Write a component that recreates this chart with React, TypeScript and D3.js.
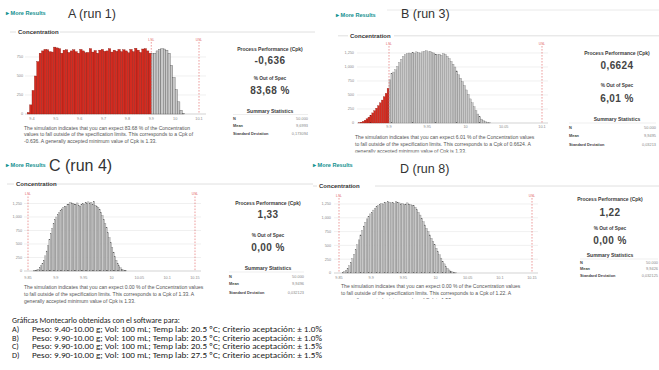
import React from "react";
import * as d3 from "d3";

// ---- data: histogram counts ----
// A (run 1): bins of 0.01 starting at 9.38
const startA = 9.38;
const binA = 0.01;
const countsA = [
  20, 120, 310, 500, 690, 800, 830, 850, 845, 820, 815, 880, 870, 860, 800, 840, 845, 810, 830, 845,
  820, 800, 850, 830, 805, 810, 860, 815, 835, 800, 840, 850, 825, 830, 860, 815, 840, 825, 850, 820,
  845, 830, 805, 850, 820, 865, 840, 810, 855, 860, 830, 800, 795, 800, 830, 850, 860, 855, 840, 800,
  640, 480, 320, 160, 50, 10,
];

// B (run 3): bins of 0.0025 starting at 9.86
const startB = 9.86;
const binB = 0.0025;
const countsB = [
  5, 15, 30, 50, 75, 105, 140, 180, 220, 265, 310, 360, 410, 470, 530, 620, 770, 880, 910, 950,
  1010, 1080, 1140, 1190, 1220, 1240, 1250, 1240, 1265, 1250, 1270, 1255, 1250, 1270, 1280, 1290, 1270, 1280, 1260, 1250,
  1230, 1220, 1230, 1210, 1240, 1225, 1190, 1150, 1100, 1050, 1000, 930, 860, 800, 740, 670, 590, 510, 430, 360,
  290, 220, 160, 110, 70, 40, 22, 10, 5,
];

// C (run 4): bins of 0.0025 starting at 9.86
const startC = 9.86;
const binC = 0.0025;
const countsC = [
  3, 10, 20, 35, 60, 95, 140, 200, 280, 370, 470, 580, 690, 790, 880, 950, 1000, 1040, 1080, 1120,
  1150, 1180, 1200, 1190, 1230, 1240, 1270, 1260, 1250, 1240, 1230, 1260, 1220, 1200, 1230, 1250, 1240, 1270, 1260, 1280,
  1250, 1270, 1240, 1290, 1220, 1200, 1180, 1140, 1090, 1030, 960, 880, 800, 710, 620, 530, 440, 350, 270, 200,
  140, 95, 60, 35, 20, 10, 5,
];

// D (run 8): bins of 0.0025 starting at 9.855
const startD = 9.855;
const binD = 0.0025;
const countsD = [
  10, 25, 50, 85, 130, 190, 260, 340, 420, 510, 600, 690, 770, 850, 920, 980, 1030, 1070, 1100, 1140,
  1170, 1200, 1220, 1240, 1260, 1250, 1280, 1270, 1290, 1285, 1270, 1280, 1260, 1290, 1280, 1270, 1250, 1260, 1240, 1250,
  1270, 1250, 1240, 1230, 1220, 1190, 1150, 1100, 1050, 990, 930, 870, 810, 750, 690, 630, 570, 510, 450, 390,
  330, 270, 215, 165, 120, 85, 55, 35, 20, 10, 5,
];

const ticksXA = [9.4, 9.5, 9.6, 9.7, 9.8, 9.9, 10, 10.1];
const ticksXB = [9.9, 9.95, 10, 10.05, 10.1];
const ticksXCD = [9.85, 9.9, 9.95, 10, 10.05, 10.1, 10.15];
const ticksYA = [0, 250, 500, 750];
const ticksYBCD = [0, 250, 500, 750, 1000, 1250];

const specA = [9.9, 10.1];
const specB = [9.9, 10.1];
const specC = [9.85, 10.15];
const specD = [9.85, 10.15];

const titles = ["A (run 1)", "B (run 3)", "C (run 4)", "D (run 8)"];
const cpkValues = ["-0,636", "0,6624", "1,33", "1,22"];
const outOfSpec = ["83,68 %", "6,01 %", "0,00 %", "0,00 %"];
const statN = ["50.000", "50.000", "50.000", "50.000"];
const statMean = ["9,6993", "9,9495", "9,9496", "9,9426"];
const statSd = ["0,173094", "0,03213", "0,032123", "0,032125"];

const descA = [
  "The simulation indicates that you can expect 83.68 % of the Concentration",
  "values to fall outside of the specification limits. This corresponds to a Cpk of",
  "-0.636. A generally accepted minimum value of Cpk is 1.33.",
];
const descB = [
  "The simulation indicates that you can expect 6.01 % of the Concentration values",
  "to fall outside of the specification limits. This corresponds to a Cpk of 0.6624. A",
  "generally accepted minimum value of Cpk is 1.33.",
];
const descC = [
  "The simulation indicates that you can expect 0.00 % of the Concentration values",
  "to fall outside of the specification limits. This corresponds to a Cpk of 1.33. A",
  "generally accepted minimum value of Cpk is 1.33.",
];
const descD = [
  "The simulation indicates that you can expect 0.00 % of the Concentration values",
  "to fall outside of the specification limits. This corresponds to a Cpk of 1.22. A",
  "generally accepted minimum value of Cpk is 1.33.",
];

const captionTitle = "Gráficas Montecarlo obtenidas con el software para:";
const captionLetters = ["A)", "B)", "C)", "D)"];
const captionLines = [
  "Peso: 9.40-10.00 g; Vol: 100 mL; Temp lab: 20.5 ºC; Criterio aceptación: ± 1.0%",
  "Peso: 9.90-10.00 g; Vol: 100 mL; Temp lab: 20.5 ºC; Criterio aceptación: ± 1.0%",
  "Peso: 9.90-10.00 g; Vol: 100 mL; Temp lab: 20.5 ºC; Criterio aceptación: ± 1.5%",
  "Peso: 9.90-10.00 g; Vol: 100 mL; Temp lab: 27.5 ºC; Criterio aceptación: ± 1.5%",
];

const UI = "'Liberation Sans', Arial, sans-serif";
const TEAL = "#12918f";
const fmtY = d3.format(",");

type Layout = {
  idx: number;
  counts: number[];
  start: number;
  bin: number;
  spec: number[];
  ticksX: number[];
  ticksY: number[];
  xDom: [number, number];
  xRange: [number, number];
  yMax: number;
  yRange: [number, number];
  gridX: [number, number];
  yLabelX: number;
  xLabelY: number;
  specTop: number;
  more: [number, number];
  title: [number, number, number];
  conc: [number, number];
  concLine: [number, number, number, number, number];
  stats: { cx: number; ys: number[]; tx: [number, number] };
  desc: string[];
  descX: number;
  descY: number[];
  clipY?: number;
};

function Panel({ p }: { p: Layout }) {
  const x = d3.scaleLinear().domain(p.xDom).range(p.xRange);
  const y = d3.scaleLinear().domain([0, p.yMax]).range(p.yRange);
  const base = y(0);
  const [lsl, usl] = p.spec;
  const clipId = `clip${p.idx}`;
  const s = p.stats;
  const narrow = x(p.start + p.bin) - x(p.start) < 2;

  return (
    <g clipPath={p.clipY ? `url(#${clipId})` : undefined}>
      {p.clipY && (
        <defs>
          <clipPath id={clipId}>
            <rect x={0} y={0} width={700} height={p.clipY} />
          </clipPath>
        </defs>
      )}
      {/* header */}
      <text x={p.more[0]} y={p.more[1]} fontFamily={UI} fontSize={5.6} fontWeight="bold" fill={TEAL}>
        ▸ More Results
      </text>
      <text x={p.title[0]} y={p.title[1]} fontFamily={UI} fontSize={p.title[2]} fill="#333">
        {titles[p.idx]}
      </text>
      <line x1={p.concLine[0]} x2={p.concLine[1]} y1={p.concLine[4]} y2={p.concLine[4]} stroke="#d8d8d8" strokeWidth={0.8} />
      <line x1={p.concLine[2]} x2={p.concLine[3]} y1={p.concLine[4]} y2={p.concLine[4]} stroke="#d8d8d8" strokeWidth={0.8} />
      <text x={p.conc[0]} y={p.conc[1]} fontFamily={UI} fontSize={6} fontWeight="bold" fill="#333">
        Concentration
      </text>

      {/* grid + y labels */}
      {p.ticksY.map((t) => (
        <g key={t}>
          <line x1={p.gridX[0]} x2={p.gridX[1]} y1={y(t)} y2={y(t)} stroke={t === 0 ? "#b5b5b5" : "#e6e6e6"} strokeWidth={0.6} />
          <text x={p.yLabelX} y={y(t) + 1.3} textAnchor="end" fontFamily={UI} fontSize={3.8} fill="#8a8a8a">
            {fmtY(t)}
          </text>
        </g>
      ))}

      {/* bars */}
      {p.counts.map((c, i) => {
        const x0 = p.start + i * p.bin;
        const out = x0 < lsl - 1e-9 || x0 >= usl - 1e-9;
        return (
          <rect
            key={i}
            x={x(x0)}
            y={y(c)}
            width={x(x0 + p.bin) - x(x0)}
            height={base - y(c)}
            fill={out ? "#d42b20" : "#c8c8c8"}
            stroke={out ? "#861810" : narrow ? "#606060" : "#4f4f4f"}
            strokeWidth={narrow ? 0.25 : 0.35}
          />
        );
      })}

      {/* spec limits */}
      {[lsl, usl].map((v, k) => (
        <g key={k}>
          <line x1={x(v)} x2={x(v)} y1={p.specTop} y2={base} stroke="#e05a5a" strokeWidth={0.6} strokeDasharray="1.6,1.4" />
          <text x={x(v)} y={p.specTop - 1.5} textAnchor="middle" fontFamily={UI} fontSize={3.3} fill="#e05a5a">
            {k === 0 ? "LSL" : "USL"}
          </text>
        </g>
      ))}

      {/* x labels */}
      {p.ticksX.map((t) => (
        <text key={t} x={x(t)} y={p.xLabelY} textAnchor="middle" fontFamily={UI} fontSize={3.8} fill="#8a8a8a">
          {String(t)}
        </text>
      ))}

      {/* description */}
      {p.desc.map((l, i) => (
        <text key={i} x={p.descX} y={p.descY[i]} fontFamily={UI} fontSize={5.05} fill="#555">
          {l}
        </text>
      ))}

      {/* stats */}
      <text x={s.cx} y={s.ys[0]} textAnchor="middle" fontFamily={UI} fontSize={5} fontWeight="bold" fill="#3a3a3a">
        Process Performance (Cpk)
      </text>
      <text x={s.cx} y={s.ys[1]} textAnchor="middle" fontFamily={UI} fontSize={10} fontWeight="bold" fill="#444" letterSpacing={0.4}>
        {cpkValues[p.idx]}
      </text>
      <text x={s.cx} y={s.ys[2]} textAnchor="middle" fontFamily={UI} fontSize={4.8} fontWeight="bold" fill="#3a3a3a">
        % Out of Spec
      </text>
      <text x={s.cx} y={s.ys[3]} textAnchor="middle" fontFamily={UI} fontSize={10} fontWeight="bold" fill="#444" letterSpacing={0.4}>
        {outOfSpec[p.idx]}
      </text>
      <text x={s.cx} y={s.ys[4]} textAnchor="middle" fontFamily={UI} fontSize={5} fontWeight="bold" fill="#3a3a3a">
        Summary Statistics
      </text>
      <line x1={s.tx[0]} x2={s.tx[1]} y1={s.ys[4] + 2} y2={s.ys[4] + 2} stroke="#dcdcdc" strokeWidth={0.5} />
      {[
        ["N", statN[p.idx]],
        ["Mean", statMean[p.idx]],
        ["Standard Deviation", statSd[p.idx]],
      ].map((r, i) => (
        <g key={i}>
          <text x={s.tx[0]} y={s.ys[5 + i]} fontFamily={UI} fontSize={3.9} fontWeight="bold" fill="#444">
            {r[0]}
          </text>
          <text x={s.tx[1]} y={s.ys[5 + i]} textAnchor="end" fontFamily={UI} fontSize={3.9} fill="#888">
            {r[1]}
          </text>
        </g>
      ))}
    </g>
  );
}

const panels: Layout[] = [
  {
    idx: 0, counts: countsA, start: startA, bin: binA, spec: specA, ticksX: ticksXA, ticksY: ticksYA,
    xDom: [9.4, 10.1], xRange: [32, 199], yMax: 750, yRange: [114, 57], gridX: [25, 206],
    yLabelX: 23, xLabelY: 120.3, specTop: 42,
    more: [6, 15], title: [68, 17.5, 12.5], conc: [18, 34], concLine: [10, 16, 60, 315, 32],
    stats: { cx: 270, ys: [50.5, 64, 80, 94, 112.5, 119.8, 126.8, 134.6], tx: [233, 308] },
    desc: descA, descX: 24, descY: [129.6, 136.2, 142.8],
  },
  {
    idx: 1, counts: countsB, start: startB, bin: binB, spec: specB, ticksX: ticksXB, ticksY: ticksYBCD,
    xDom: [9.9, 10.1], xRange: [389, 542], yMax: 1250, yRange: [123, 53], gridX: [357, 548],
    yLabelX: 354, xLabelY: 128.3, specTop: 46,
    more: [336, 17], title: [401, 17.8, 12.5], conc: [350, 38], concLine: [338, 348, 394, 659, 35.8],
    stats: { cx: 617, ys: [55, 68.5, 87, 101.5, 121, 129, 137, 145.8], tx: [569, 656] },
    desc: descB, descX: 355, descY: [138.8, 146, 153.2], clipY: 152.5,
  },
  {
    idx: 2, counts: countsC, start: startC, bin: binC, spec: specC, ticksX: ticksXCD, ticksY: ticksYBCD,
    xDom: [9.85, 10.15], xRange: [28, 195], yMax: 1250, yRange: [271, 203.5], gridX: [24, 201],
    yLabelX: 22, xLabelY: 278.6, specTop: 196.5,
    more: [6, 167], title: [49, 171, 16], conc: [16, 186], concLine: [7, 14, 51, 313, 184],
    stats: { cx: 268, ys: [204.7, 218, 236.7, 251, 270, 278, 285.3, 293.6], tx: [229, 304] },
    desc: descC, descX: 24, descY: [288.6, 296, 303.3],
  },
  {
    idx: 3, counts: countsD, start: startD, bin: binD, spec: specD, ticksX: ticksXCD, ticksY: ticksYBCD,
    xDom: [9.85, 10.15], xRange: [339, 532], yMax: 1250, yRange: [273, 204], gridX: [334, 538],
    yLabelX: 331, xLabelY: 279, specTop: 198,
    more: [313, 167], title: [400, 173, 12.5], conc: [319, 188], concLine: [313, 317, 375, 659, 186],
    stats: { cx: 610, ys: [200.7, 215.5, 229.8, 244, 257, 263.7, 270.3, 276.8], tx: [580, 658] },
    desc: descD, descX: 341, descY: [288.3, 295, 301.7], clipY: 299,
  },
];

export default function App() {
  return (
    <svg
      width={659}
      height={370}
      viewBox="0 0 659 370"
      style={{ position: "absolute", left: 0, top: 0, background: "#fff" }}
    >
      <rect width={659} height={370} fill="#fff" />
      <line x1={387} x2={659} y1={10} y2={10} stroke="#e4e4e4" strokeWidth={0.8} />
      {panels.map((p) => (
        <Panel key={p.idx} p={p} />
      ))}

      {/* caption */}
      <g fontFamily="Carlito, 'Liberation Sans', Arial, sans-serif" fontSize={8.2} fill="#222">
        <text x={12} y={322.8} textLength={168} lengthAdjust="spacingAndGlyphs">
          {captionTitle}
        </text>
        {captionLines.map((l, i) => (
          <g key={i}>
            <text x={12} y={332 + i * 8.6}>{captionLetters[i]}</text>
            <text x={32} y={332 + i * 8.6} textLength={290} lengthAdjust="spacingAndGlyphs">
              {l}
            </text>
          </g>
        ))}
      </g>
    </svg>
  );
}
